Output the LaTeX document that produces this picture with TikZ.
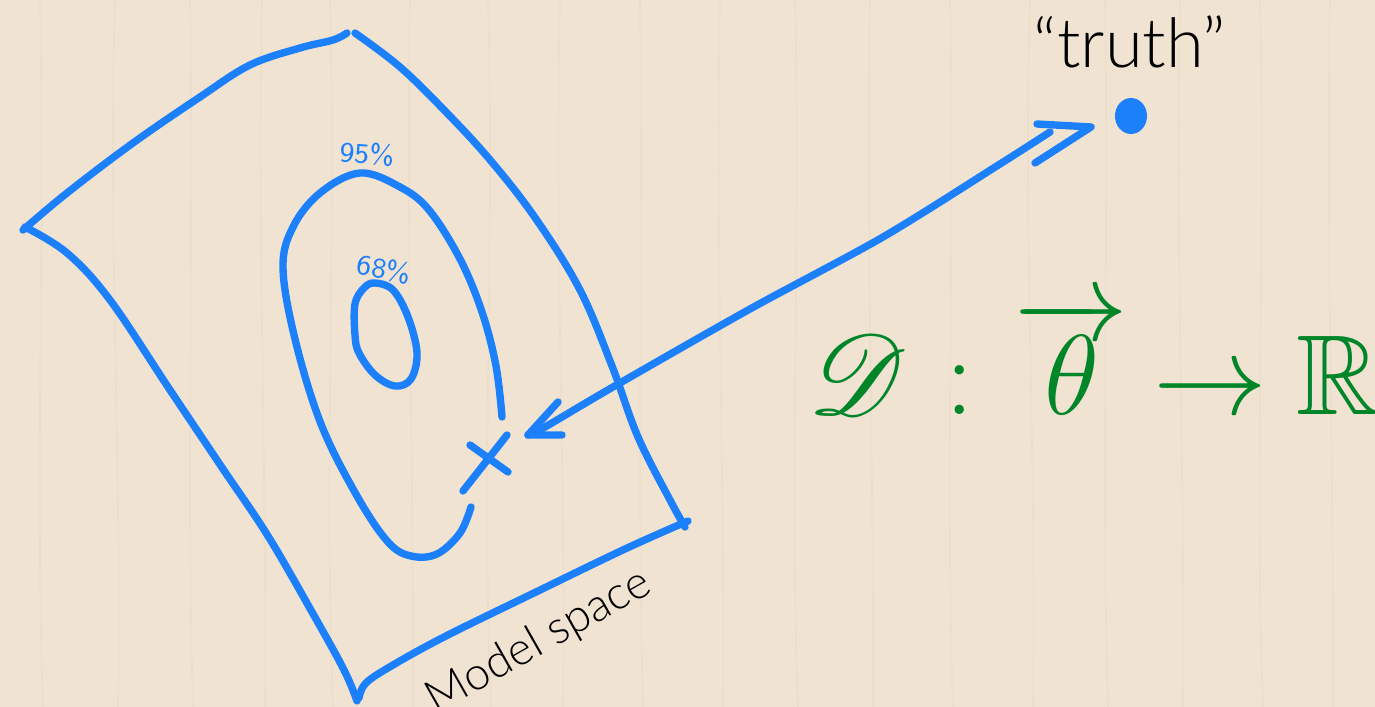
\documentclass[tikz,border=0pt]{standalone}
\usepackage{fontspec}
\usepackage{amssymb}
\usepackage{mathrsfs}
\newfontfamily\lightfont{Lato Light}
\definecolor{woodbg}{RGB}{241,227,210}
\definecolor{grain}{RGB}{231,214,193}
\definecolor{penblue}{RGB}{28,128,250}
\definecolor{mathgreen}{RGB}{0,134,40}
\begin{document}
\begin{tikzpicture}[x=0.01cm,y=-0.01cm,
  pen/.style={draw=penblue,line width=2.1pt,line cap=round,line join=round},
  handlabel/.style={text=penblue,font=\sffamily\fontsize{8}{9}\selectfont,inner sep=0pt},
  lightlabel/.style={text=black,inner sep=0pt},
  grainline/.style={draw=grain,line width=0.5pt,opacity=0.35}]
\useasboundingbox (0,0) rectangle (1375,707);
\fill[woodbg] (0,0) rectangle (1375,707);
% faint wood grain
\foreach \gx/\gw in {40/5,115/-7,190/4,262/-5,330/6,410/-4,488/7,560/-6,640/3,720/-5,795/6,870/-4,950/5,1030/-7,1105/4,1180/-5,1260/6,1330/-4}{
  \draw[grainline] (\gx,0) .. controls (\gx+\gw,240) and (\gx-\gw,470) .. (\gx+3,707);
}
% outer model-space sheet
\draw[pen] plot[smooth,tension=0.6] coordinates {(23,230) (67,193) (133,143) (200,97) (250,65) (300,48) (333,40) (347,33)};
\draw[pen] plot[smooth,tension=0.6] coordinates {(355,33) (400,67) (446,112) (491,161) (536,219) (580,290) (612,366) (638,437) (670,500) (685,527)};
\draw[pen] plot[smooth,tension=0.6] coordinates {(688,521) (625,549) (536,592) (446,636) (393,665) (366,683) (359,698)};
\draw[pen] plot[smooth,tension=0.6] coordinates {(25,227) (67,253) (110,300) (170,390) (223,469) (268,536) (312,612) (344,670) (357,701)};
% 95% contour
\draw[pen] plot[smooth,tension=0.6] coordinates {(471,507) (460,533) (437,554) (411,556) (388,542) (357,496) (321,424) (295,339) (283,268) (293,227) (320,193) (360,173) (400,187) (429,210) (460,259) (482,312) (496,366) (502,417)};
% 68% contour
\draw[pen] plot[smooth cycle,tension=0.6] coordinates {(375,283) (393,290) (408,317) (417,353) (411,379) (395,386) (375,375) (359,353) (355,335) (355,304) (364,288)};
% labels
\node[handlabel,rotate=-5] (l95) at (367,154) {95\%};
\node[handlabel,rotate=-10] (l68) at (384,269) {68\%};
% best-fit cross
\coordinate (xa1) at (507,435); \coordinate (xa2) at (463,491);
\coordinate (xb1) at (470,445); \coordinate (xb2) at (508,472);
\draw[pen] (xa1) -- (xa2);
\draw[pen] (xb1) -- (xb2);
% truth point
\fill[penblue] (1131,116) ellipse [x radius=0.16cm, y radius=0.18cm];
\coordinate (truth) at (1131,116);
\node[lightlabel,anchor=base,font=\lightfont\fontsize{19.5}{22}\selectfont] (truthlbl) at (1130,68) {“truth”};
% double arrow
\coordinate (tipA) at (528,435);
\coordinate (tipB) at (1091,127);
\draw[pen] plot[smooth,tension=0.5] coordinates {(tipA) (545,427) (613,387) (750,309) (883,237) (1000,164) (1050,132)};
\draw[pen] (558,402) -- (tipA) -- (562,435);
\draw[pen] (1037,124) -- (tipB) -- (1035,163);
% model space label
\node[lightlabel,rotate=29.6,font=\lightfont\fontsize{13}{15}\selectfont] (mslbl) at (539,642) {Model space};
% formula
\node[text=mathgreen,anchor=base west,inner sep=0pt,font=\fontsize{24.88}{30}\selectfont] (formula) at (808,415)
  {\scalebox{1.3}{$\mathscr{D}\mkern6mu{:}\mkern6.5mu\overrightarrow{\mkern4mu\theta\mkern4mu}\mkern4mu{\rightarrow}\mkern4.6mu\mathbb{R}$}};
\end{tikzpicture}
\end{document}
